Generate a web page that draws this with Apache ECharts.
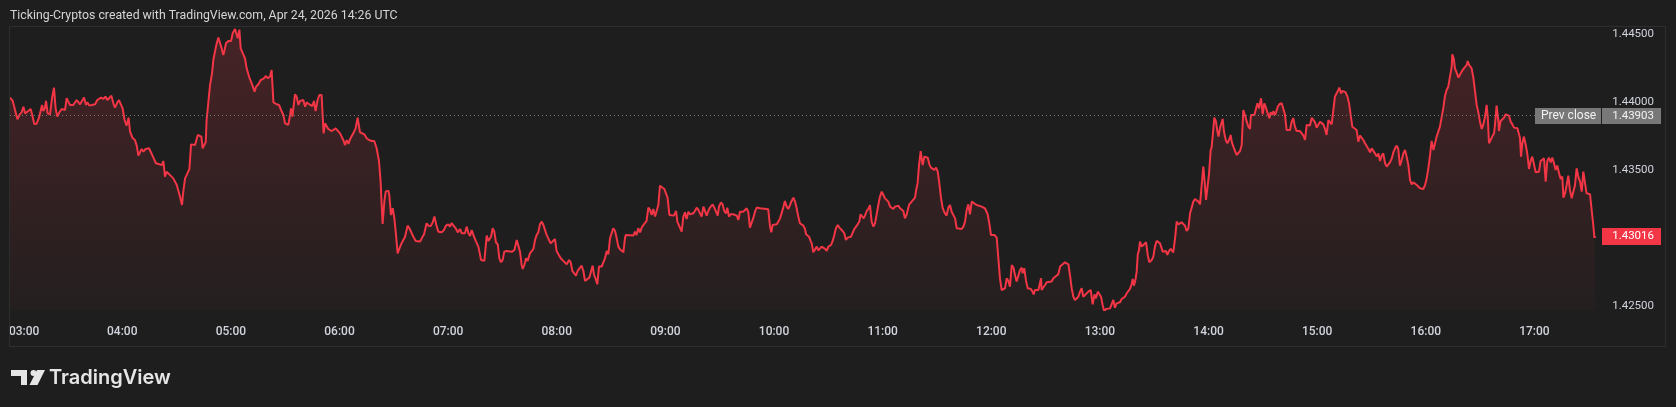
<!DOCTYPE html>
<html><head><meta charset="utf-8">
<script src="https://cdn.jsdelivr.net/npm/echarts@6/dist/echarts.min.js"></script>
<style>html,body{margin:0;padding:0;background:#1e1e1e;}#c{width:1676px;height:407px;}</style>
</head><body><div id="c"></div>
<script>
// time of each sample, in minutes after midnight (chart time zone)
const minutes = [
178.0,179.5,180.8,182.1,183.2,184.4,185.4,186.3,188.1,189.4,190.3,191.4,192.7,194.0,194.9,195.7,196.4,197.2,197.9,198.8,200.1,201.2,202.3,203.2,204.1,205.3,206.5,208.4,209.3,210.0,211.1,213.0,214.8,215.7,216.7,217.6,218.9,220.0,220.7,221.8,225.0,226.2,227.3,228.3,229.6,230.7,231.8,232.9,234.0,235.1,236.0,237.3,238.2,239.3,240.2,241.3,242.4,243.5,244.3,245.6,247.0,248.0,248.9,249.8,250.7,251.7,252.9,254.8,255.7,257.2,258.6,259.6,262.0,262.7,263.6,264.5,265.5,266.7,268.2,269.1,270.1,271.0,271.9,273.0,273.7,274.7,276.0,277.1,278.0,278.9,280.2,281.7,283.7,284.4,285.5,286.1,286.6,287.5,288.5,289.6,290.3,291.2,292.2,293.1,294.0,294.9,295.8,296.4,297.3,298.6,300.1,301.0,302.3,303.2,303.8,304.7,305.4,306.5,307.8,308.7,310.2,311.5,312.4,313.1,313.9,315.2,316.5,317.9,319.4,320.3,
321.6,322.5,323.5,325.3,326.6,327.7,329.0,329.9,330.8,331.7,332.7,333.2,334.0,335.4,336.3,337.3,338.2,339.1,340.0,341.0,341.9,343.2,344.3,345.0,345.9,346.8,347.9,348.9,350.1,351.2,352.0,352.9,353.8,355.7,356.6,357.9,359.0,360.3,362.1,363.0,364.0,364.9,365.8,366.7,367.6,368.9,370.0,371.3,372.2,373.7,375.0,376.3,377.8,379.2,380.5,381.8,382.7,383.3,383.8,384.8,385.5,387.0,387.5,388.4,389.4,390.3,391.2,392.1,393.0,394.0,394.9,396.2,397.6,398.6,399.5,400.8,402.1,403.2,404.5,405.4,406.7,408.1,409.1,410.4,411.5,412.4,413.7,414.6,415.5,416.4,417.7,418.8,420.1,421.0,421.9,422.9,424.2,425.3,426.6,427.5,429.3,430.2,431.2,432.1,433.0,433.9,435.2,436.7,438.2,438.9,440.0,441.3,442.2,443.7,444.6,445.5,446.4,447.4,448.3,449.2,450.1,451.0,452.3,455.4,456.6,457.9,458.8,459.7,460.6,461.2,462.1,463.0,463.9,465.2,466.1,467.1,468.0,
468.9,469.8,470.7,471.7,472.6,473.5,474.4,475.3,476.6,477.7,479.0,479.9,480.9,482.2,483.6,484.5,485.5,486.8,487.7,488.6,489.5,490.6,491.5,492.5,493.7,494.7,495.6,496.5,498.0,498.9,499.8,500.6,501.5,502.4,503.3,504.8,505.7,506.6,507.6,508.5,509.4,510.3,511.2,512.2,513.1,514.0,514.9,516.8,517.7,518.2,522.3,523.2,524.1,525.0,526.0,526.9,527.8,528.7,529.6,530.6,531.5,532.4,533.3,534.3,535.2,536.1,537.0,537.9,539.4,540.3,541.2,542.2,544.7,545.9,546.6,547.7,549.0,549.9,550.8,551.7,552.7,553.6,554.5,555.4,556.3,557.3,558.2,559.1,560.0,561.0,561.9,562.8,563.7,564.6,566.1,567.0,567.9,568.9,569.6,570.7,571.6,572.5,573.5,574.2,575.1,576.0,577.5,579.4,580.3,581.2,582.1,583.0,584.0,584.9,585.8,586.7,587.6,588.6,589.5,590.4,591.3,592.2,596.8,597.8,598.5,599.2,601.5,602.4,603.3,604.2,605.1,606.0,607.0,607.9,608.8,609.7,610.7,611.6,612.5,613.4,614.3,
615.3,616.2,617.1,617.7,618.6,619.3,620.2,620.8,621.7,622.6,623.6,624.5,625.4,626.3,627.2,628.2,629.1,630.0,631.5,632.4,633.3,634.2,635.2,636.1,637.9,638.8,639.7,640.7,641.6,642.5,643.4,644.4,645.3,646.2,647.1,647.8,648.8,649.5,650.2,651.2,652.1,653.0,653.9,654.9,655.8,656.7,657.6,658.5,659.5,660.4,661.3,662.2,663.1,664.1,665.0,665.9,666.8,668.7,669.6,670.5,671.4,672.3,673.3,674.2,674.7,676.0,676.9,677.9,678.4,679.3,680.1,681.0,681.5,682.1,683.0,683.9,684.9,685.8,686.7,687.6,688.5,689.5,690.4,691.3,692.2,693.1,694.1,695.3,696.3,697.2,698.1,699.0,700.0,700.9,701.8,703.6,704.6,705.5,706.4,707.3,708.2,709.2,710.1,711.9,712.8,714.7,716.5,717.4,718.0,718.9,719.8,720.8,721.7,723.0,723.9,724.8,725.7,726.7,727.6,728.5,729.4,730.3,731.3,732.2,733.1,734.0,735.0,735.9,736.8,737.3,738.2,739.2,740.1,741.9,742.8,743.4,744.1,745.1,746.0,747.5,747.8,748.7,749.7,750.6,753.3,754.3,755.2,757.0,758.0,758.9,760.7,
761.6,762.6,763.5,764.4,765.3,766.2,767.2,768.1,769.0,769.9,770.8,771.8,773.6,774.9,776.0,777.0,777.8,778.8,779.7,780.6,781.5,782.4,783.4,784.3,785.6,786.5,787.4,788.3,789.2,791.1,792.0,793.0,793.9,794.8,795.7,796.6,797.5,798.1,798.8,799.7,800.3,800.9,801.6,802.1,803.1,804.0,805.5,806.4,807.3,808.6,809.5,810.4,811.3,813.2,814.1,814.7,815.6,816.5,817.2,818.2,819.1,820.5,821.5,822.4,823.3,824.2,825.1,826.1,827.0,827.9,828.8,829.8,830.7,831.6,832.5,833.4,834.4,835.3,836.2,837.1,838.0,838.6,839.3,840.2,841.2,841.7,842.3,843.2,844.1,844.9,845.5,846.3,847.8,848.5,849.5,850.4,851.3,852.2,852.8,853.7,854.6,855.5,856.4,857.4,858.3,859.2,860.1,861.1,862.0,862.9,863.4,864.4,865.3,866.2,867.0,867.9,868.4,869.0,869.9,870.8,871.7,872.7,873.6,874.3,875.2,875.8,876.7,877.3,878.2,879.1,880.4,881.3,882.2,883.1,884.1,885.0,885.9,886.8,887.7,888.7,890.5,891.4,892.4,893.3,894.2,896.0,897.0,897.9,898.8,899.7,900.6,901.6,902.5,903.4,904.3,905.2,906.2,907.1,
908.0,908.9,909.8,910.8,911.7,912.2,913.2,913.9,914.8,915.7,916.7,917.6,918.5,919.4,920.3,921.8,922.7,923.7,924.6,925.5,926.4,927.3,928.3,929.2,930.1,931.0,931.9,932.9,933.8,934.7,935.6,936.5,937.5,938.4,939.3,940.2,941.1,942.1,943.0,943.9,944.8,945.7,946.7,947.6,948.5,949.4,950.3,951.3,952.2,953.1,954.0,955.0,955.9,956.8,957.7,958.6,959.6,960.5,961.4,962.3,963.2,964.2,965.1,966.0,966.9,967.8,968.8,969.7,970.6,971.5,972.4,973.4,974.3,974.6,975.4,976.1,977.0,978.0,978.9,979.8,980.7,981.6,982.6,983.1,983.9,984.8,985.3,986.3,987.2,988.1,989.0,989.9,990.9,991.8,992.7,993.6,994.2,994.9,995.8,996.7,997.7,998.2,999.1,1000.1,1000.4,1001.3,1002.3,1003.2,1004.1,1005.0,1005.9,1006.9,1007.8,1008.7,1009.6,1010.6,1011.5,1012.0,1012.6,1013.3,1014.2,1015.2,1016.1,1017.0,1017.9,1018.8,1019.8,1020.7,1022.5,1023.4,1025.3,1026.2,1027.1,1028.0,1029.0,1029.9,1030.8,1031.7,1032.6,1033.6,1034.5,1035.4,1036.0,1036.9,1037.8,1038.7,1039.6,1040.6,1041.5,1042.4,1043.3,1044.2,1045.2,1046.1,1047.0,1047.9,1048.8,1050.7,1051.6,1052.5,1053.1,1053.8
];
// price at each sample
const prices = [
1.44036,1.44011,1.43945,1.43876,1.43908,1.43928,1.43969,1.43920,1.43937,1.43952,1.43908,1.43842,1.43844,1.43888,1.43896,1.43982,1.43937,1.43957,1.44011,1.43920,1.43913,1.44031,1.44109,1.43957,1.43896,1.43928,1.43952,1.43945,1.44031,1.44036,1.43982,1.43982,1.44018,1.44018,1.43987,1.44001,1.44036,1.43982,1.44001,1.43977,1.43987,1.44018,1.44011,1.44036,1.44026,1.44043,1.44018,1.44026,1.44050,1.43994,1.43962,1.44001,1.44018,1.44011,1.43957,1.43871,1.43830,1.43888,1.43786,1.43741,1.43724,1.43683,1.43609,1.43619,1.43658,1.43638,1.43658,1.43663,1.43638,1.43594,1.43553,1.43540,1.43540,1.43570,1.43455,1.43491,1.43504,1.43462,1.43442,1.43442,1.43393,1.43381,1.43308,1.43246,1.43344,1.43442,1.43479,1.43511,1.43692,1.43700,1.43687,1.43761,1.43749,1.43663,1.43675,1.43707,1.43871,1.43994,1.44129,1.44214,1.44312,1.44374,1.44435,1.44477,1.44484,1.44398,1.44349,1.44379,1.44435,1.44452,1.44452,1.44509,1.44540,1.44533,1.44472,1.44536,1.44398,1.44386,1.44325,1.44251,1.44183,1.44141,1.44129,1.44080,1.44116,1.44134,1.44165,1.44173,1.44195,1.44178,
1.44190,1.44239,1.44001,1.43987,1.43982,1.43945,1.43908,1.43847,1.43854,1.43835,1.43908,1.43957,1.43896,1.44060,1.44043,1.43982,1.44011,1.44001,1.44018,1.43969,1.44001,1.43987,1.43994,1.43974,1.44011,1.43937,1.44018,1.44055,1.44055,1.43773,1.43847,1.43835,1.43805,1.43790,1.43781,1.43810,1.43810,1.43773,1.43724,1.43687,1.43724,1.43695,1.43729,1.43737,1.43773,1.43810,1.43888,1.43781,1.43773,1.43766,1.43737,1.43724,1.43717,1.43717,1.43663,1.43570,1.43418,1.43246,1.43107,1.43276,1.43344,1.43352,1.43320,1.43173,1.43222,1.43148,1.43026,1.42891,1.42923,1.42957,1.42962,1.43013,1.43094,1.43075,1.43070,1.43013,1.42982,1.42989,1.42977,1.43001,1.43031,1.43112,1.43094,1.43092,1.43119,1.43161,1.43087,1.43050,1.43062,1.43045,1.43062,1.43094,1.43104,1.43087,1.43112,1.43099,1.43075,1.43045,1.43070,1.43038,1.43038,1.43087,1.43038,1.43018,1.43062,1.43026,1.42984,1.42940,1.42842,1.42835,1.42835,1.43021,1.42982,1.43013,1.43075,1.43050,1.42972,1.42957,1.42854,1.42825,1.42842,1.42903,1.42908,1.42903,1.42915,1.42989,1.42996,1.42903,1.42805,1.42776,1.42805,1.42854,1.42835,1.42891,1.42879,1.42923,1.42989,
1.43026,1.43045,1.43104,1.43124,1.43099,1.43087,1.43026,1.43001,1.42964,1.42977,1.42996,1.42908,1.42884,1.42854,1.42835,1.42825,1.42810,1.42842,1.42825,1.42761,1.42756,1.42727,1.42761,1.42751,1.42800,1.42761,1.42688,1.42683,1.42712,1.42719,1.42800,1.42732,1.42702,1.42663,1.42793,1.42793,1.42805,1.42854,1.42908,1.42884,1.43001,1.43038,1.43075,1.43055,1.43001,1.42940,1.42920,1.42898,1.43006,1.43026,1.43021,1.43050,1.43026,1.43075,1.43045,1.43080,1.43099,1.43112,1.43129,1.43227,1.43210,1.43173,1.43217,1.43161,1.43168,1.43246,1.43388,1.43381,1.43364,1.43332,1.43300,1.43173,1.43168,1.43202,1.43124,1.43119,1.43050,1.43161,1.43192,1.43143,1.43197,1.43178,1.43168,1.43185,1.43202,1.43227,1.43210,1.43185,1.43161,1.43234,1.43227,1.43168,1.43202,1.43227,1.43251,1.43227,1.43222,1.43168,1.43234,1.43266,1.43251,1.43202,1.43185,1.43227,1.43161,1.43178,1.43178,1.43168,1.43136,1.43197,1.43185,1.43197,1.43202,1.43222,1.43192,1.43080,1.43092,1.43153,1.43197,1.43227,1.43234,1.43222,1.43214,1.43087,1.43045,1.43099,1.43104,1.43124,1.43148,1.43153,1.43227,1.43276,1.43234,1.43217,1.43246,1.43276,1.43300,1.43271,1.43222,1.43161,1.43112,
1.43104,1.43094,1.43070,1.43031,1.43026,1.43013,1.42982,1.42964,1.42898,1.42903,1.42940,1.42913,1.42908,1.42940,1.42952,1.42923,1.42908,1.42940,1.42952,1.42982,1.43026,1.43075,1.43099,1.43080,1.43055,1.43038,1.42989,1.43006,1.42996,1.43013,1.43001,1.43070,1.43087,1.43104,1.43124,1.43178,1.43178,1.43148,1.43168,1.43202,1.43217,1.43246,1.43124,1.43087,1.43112,1.43178,1.43246,1.43308,1.43344,1.43320,1.43295,1.43295,1.43271,1.43234,1.43227,1.43217,1.43234,1.43241,1.43222,1.43210,1.43202,1.43148,1.43178,1.43227,1.43251,1.43271,1.43283,1.43300,1.43349,1.43406,1.43540,1.43643,1.43594,1.43540,1.43602,1.43614,1.43594,1.43545,1.43521,1.43521,1.43504,1.43521,1.43491,1.43406,1.43300,1.43227,1.43192,1.43168,1.43227,1.43246,1.43197,1.43185,1.43148,1.43075,1.43062,1.43070,1.43087,1.43124,1.43210,1.43251,1.43178,1.43271,1.43259,1.43246,1.43251,1.43234,1.43222,1.43210,1.43178,1.43112,1.43026,1.43013,1.43026,1.43006,1.42854,1.42707,1.42621,1.42614,1.42634,1.42707,1.42688,1.42646,1.42805,1.42786,1.42732,1.42683,1.42670,1.42768,1.42786,1.42744,1.42781,1.42688,1.42634,1.42629,1.42609,1.42589,1.42621,1.42609,1.42621,1.42707,1.42621,1.42621,1.42658,1.42678,1.42683,1.42707,1.42712,1.42737,1.42793,1.42805,1.42825,
1.42830,1.42810,1.42727,1.42634,1.42572,1.42548,1.42555,1.42572,1.42609,1.42634,1.42572,1.42580,1.42609,1.42621,1.42516,1.42589,1.42560,1.42609,1.42614,1.42572,1.42511,1.42462,1.42482,1.42486,1.42486,1.42491,1.42548,1.42491,1.42523,1.42531,1.42555,1.42560,1.42572,1.42597,1.42604,1.42629,1.42663,1.42702,1.42653,1.42702,1.42756,1.42884,1.42915,1.42977,1.42940,1.42952,1.42972,1.42879,1.42825,1.42842,1.42866,1.42940,1.42982,1.42964,1.42964,1.42903,1.42891,1.42908,1.42879,1.42908,1.42923,1.42898,1.43001,1.43124,1.43104,1.43112,1.43119,1.43112,1.43094,1.43055,1.43070,1.43185,1.43227,1.43271,1.43290,1.43290,1.43271,1.43251,1.43393,1.43528,1.43393,1.43283,1.43283,1.43467,1.43651,1.43668,1.43663,1.43888,1.43859,1.43786,1.43749,1.43810,1.43879,1.43786,1.43724,1.43700,1.43724,1.43761,1.43712,1.43675,1.43687,1.43614,1.43614,1.43643,1.43687,1.43945,1.43908,1.43859,1.43822,1.43805,1.43908,1.43913,1.43908,1.43920,1.43994,1.43957,1.43994,1.44031,1.43913,1.43994,1.43962,1.43920,1.43884,1.43928,1.43908,1.43937,1.43908,1.43928,1.43969,1.43987,1.43994,1.44001,1.43913,1.43798,1.43790,1.43798,1.43859,1.43884,1.43822,1.43790,1.43790,1.43781,1.43756,1.43724,1.43835,1.43830,1.43888,1.43871,1.43854,1.43815,1.43805,1.43859,1.43871,1.43839,1.43805,1.43761,1.43871,1.43884,
1.43839,1.43847,1.44043,1.44050,1.44092,1.44109,1.44067,1.44085,1.44080,1.44075,1.44043,1.43994,1.43982,1.43822,1.43810,1.43798,1.43712,1.43756,1.43761,1.43724,1.43700,1.43687,1.43658,1.43634,1.43663,1.43668,1.43626,1.43602,1.43626,1.43570,1.43609,1.43626,1.43553,1.43528,1.43540,1.43560,1.43585,1.43634,1.43663,1.43683,1.43658,1.43536,1.43577,1.43626,1.43651,1.43602,1.43545,1.43430,1.43398,1.43413,1.43418,1.43393,1.43381,1.43369,1.43357,1.43364,1.43393,1.43442,1.43516,1.43609,1.43717,1.43651,1.43700,1.43749,1.43786,1.43822,1.43896,1.43962,1.44050,1.44092,1.44116,1.44129,1.44264,1.44354,1.44325,1.44251,1.44222,1.44183,1.44190,1.44227,1.44246,1.44256,1.44276,1.44305,1.44276,1.44264,1.44251,1.44178,1.44080,1.43982,1.43928,1.43859,1.43805,1.43839,1.43896,1.43982,1.43896,1.43700,1.43724,1.43749,1.43773,1.43835,1.43977,1.43859,1.43790,1.43864,1.43859,1.43888,1.43913,1.43908,1.43903,1.43859,1.43839,1.43815,1.43822,1.43810,1.43822,1.43741,1.43602,1.43700,1.43749,1.43687,1.43619,1.43511,1.43570,1.43602,1.43614,1.43487,1.43491,1.43570,1.43589,1.43418,1.43570,1.43594,1.43560,1.43594,1.43553,1.43504,1.43536,1.43479,1.43437,1.43455,1.43300,1.43332,1.43393,1.43462,1.43357,1.43295,1.43290,1.43393,1.43516,1.43455,1.43418,1.43344,1.43491,1.43496,1.43332,1.43325,1.43210,1.43099,1.43006,1.43016
];
const prevClose = 1.43903;
const lastPrice = 1.43016;
const timeTickMinutes = [180,240,300,360,420,480,540,600,660,720,780,840,900,960,1020];
const timeTickLabels = ['03:00','04:00','05:00','06:00','07:00','08:00','09:00','10:00','11:00','12:00','13:00','14:00','15:00','16:00','17:00'];
const priceTicks = [1.425, 1.435, 1.440, 1.445];
const titleText = 'Ticking-Cryptos created with TradingView.com, Apr 24, 2026 14:26 UTC';
const prevCloseLabel = 'Prev close';
const brandText = 'TradingView';

const FONT = 'Roboto, "Noto Sans", sans-serif';
const TXT = '#d1d4dc';
const RED = '#f23645';

const chart = echarts.init(document.getElementById('c'), null, {renderer: 'canvas'});
const seriesData = minutes.map((m, i) => [m, prices[i]]);

chart.setOption({
  backgroundColor: '#1e1e1e',
  animation: false,
  grid: {left: 10, right: 80, top: 27, bottom: 97, containLabel: false},
  xAxis: {
    type: 'value', min: 178, max: 1054,
    axisLine: {show: false}, axisTick: {show: false}, splitLine: {show: false},
    axisLabel: {
      customValues: timeTickMinutes,
      margin: 22, verticalAlign: 'middle',
      color: TXT, fontSize: 12, fontFamily: FONT, fontWeight: 500,
      formatter: function (v) {
        const i = timeTickMinutes.indexOf(Math.round(v));
        const s = i >= 0 ? timeTickLabels[i] : '';
        return i === 0 ? '{first|' + s + '}' : s;
      },
      rich: {first: {padding: [0, 0, 0, 21], color: TXT, fontSize: 12, fontFamily: FONT, fontWeight: 500}}
    }
  },
  yAxis: {
    type: 'value', position: 'right', min: 1.42474, max: 1.44555, scale: true,
    axisLine: {show: false}, axisTick: {show: false}, splitLine: {show: false},
    axisLabel: {
      customValues: priceTicks,
      align: 'right', margin: 58,
      color: TXT, fontSize: 11.5, fontFamily: FONT,
      formatter: v => v.toFixed(5)
    }
  },
  series: [{
    type: 'line',
    data: seriesData,
    showSymbol: false,
    smooth: false,
    lineStyle: {color: RED, width: 2},
    itemStyle: {color: RED},
    areaStyle: {
      color: new echarts.graphic.LinearGradient(0, 0, 0, 1, [
        {offset: 0, color: 'rgba(242,54,69,0.28)'},
        {offset: 1, color: 'rgba(242,54,69,0.04)'}
      ])
    },
    markLine: {
      silent: true, symbol: 'none', animation: false, precision: 5,
      label: {show: false},
      lineStyle: {color: '#7a7a7a', width: 1, type: [1, 3]},
      data: [{yAxis: prevClose}]
    },
    z: 3
  }]
});

const yPrev = chart.convertToPixel({yAxisIndex: 0}, prevClose);
const yLast = chart.convertToPixel({yAxisIndex: 0}, lastPrice);

chart.setOption({
  graphic: [
    {type: 'text', z: 100, style: {x: 10, y: 16, text: titleText, fill: '#d6d6d6', fontSize: 12.3, fontFamily: FONT, verticalAlign: 'middle'}},
    {type: 'rect', z: 100, shape: {x: 9.5, y: 26.5, width: 1656, height: 320}, style: {fill: 'none', stroke: '#2e2e2e', lineWidth: 1}},
    // prev close tag
    {type: 'rect', z: 110, shape: {x: 1535, y: Math.round(yPrev) - 8, width: 66, height: 16}, style: {fill: '#787878'}},
    {type: 'rect', z: 110, shape: {x: 1602, y: Math.round(yPrev) - 8, width: 59, height: 16}, style: {fill: '#787878'}},
    {type: 'text', z: 111, style: {x: 1541, y: Math.round(yPrev), text: prevCloseLabel, fill: '#f2f2f2', fontSize: 12, fontFamily: FONT, verticalAlign: 'middle'}},
    {type: 'text', z: 111, style: {x: 1654, y: Math.round(yPrev), text: prevClose.toFixed(5), fill: '#f2f2f2', fontSize: 11.5, fontFamily: FONT, align: 'right', verticalAlign: 'middle'}},
    // last price tag
    {type: 'rect', z: 110, shape: {x: 1602, y: Math.round(yLast) - 8, width: 59, height: 17}, style: {fill: RED}},
    {type: 'text', z: 111, style: {x: 1654, y: Math.round(yLast) + 0.5, text: lastPrice.toFixed(5), fill: '#ffffff', fontSize: 11.5, fontFamily: FONT, align: 'right', verticalAlign: 'middle'}},
    // brand logo
    {type: 'rect', z: 100, shape: {x: 11, y: 370, width: 16, height: 6}, style: {fill: '#e6e6e6'}},
    {type: 'rect', z: 100, shape: {x: 21, y: 370, width: 6, height: 15}, style: {fill: '#e6e6e6'}},
    {type: 'circle', z: 100, shape: {cx: 33.5, cy: 373, r: 3}, style: {fill: '#e6e6e6'}},
    {type: 'polygon', z: 100, shape: {points: [[37, 370], [45, 370], [37.5, 385], [29.5, 385]]}, style: {fill: '#e6e6e6'}},
    {type: 'text', z: 100, style: {x: 49, y: 378, text: brandText, fill: '#e6e6e6', fontSize: 20, fontWeight: 600, fontFamily: 'Inter, Roboto, sans-serif', verticalAlign: 'middle'}}
  ]
});
</script>
</body></html>
